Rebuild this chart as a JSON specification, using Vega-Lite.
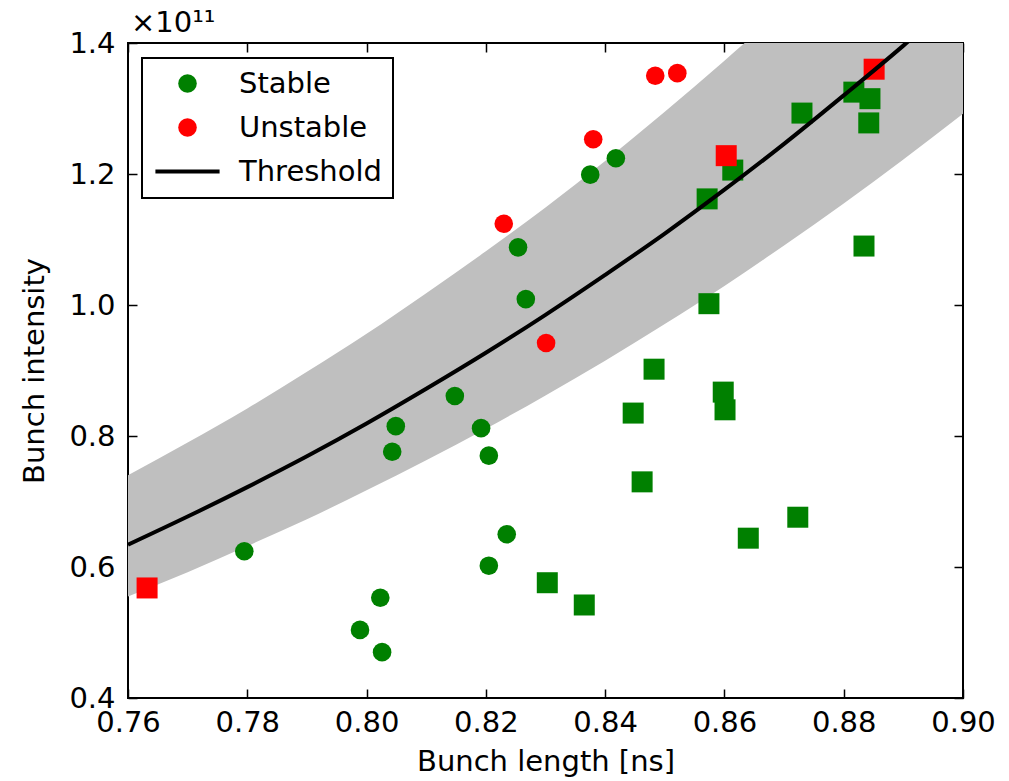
{
  "$schema": "https://vega.github.io/schema/vega-lite/v6.json",
  "autosize": "none",
  "width": 835,
  "height": 655,
  "padding": {"left": 128, "top": 43, "right": 46, "bottom": 83},
  "background": "white",
  "config": {
    "view": {"stroke": "black", "strokeWidth": 2},
    "font": "DejaVu Sans"
  },
  "title": {"text": "×10¹¹", "anchor": "start", "frame": "group", "font": "DejaVu Sans", "fontSize": 29, "fontWeight": "normal", "color": "black", "offset": 6, "dx": 3, "dy": 15},
  "datasets": {
    "curve": [
      {"len": 0.76, "thr": 0.634, "lo": 0.555, "hi": 0.740},
      {"len": 0.77, "thr": 0.677, "lo": 0.592, "hi": 0.790},
      {"len": 0.78, "thr": 0.722, "lo": 0.632, "hi": 0.842},
      {"len": 0.79, "thr": 0.769, "lo": 0.673, "hi": 0.898},
      {"len": 0.80, "thr": 0.819, "lo": 0.717, "hi": 0.956},
      {"len": 0.81, "thr": 0.872, "lo": 0.763, "hi": 1.018},
      {"len": 0.82, "thr": 0.927, "lo": 0.811, "hi": 1.082},
      {"len": 0.83, "thr": 0.985, "lo": 0.862, "hi": 1.149},
      {"len": 0.84, "thr": 1.046, "lo": 0.915, "hi": 1.220},
      {"len": 0.85, "thr": 1.109, "lo": 0.971, "hi": 1.295},
      {"len": 0.86, "thr": 1.176, "lo": 1.029, "hi": 1.373},
      {"len": 0.87, "thr": 1.246, "lo": 1.091, "hi": 1.454},
      {"len": 0.88, "thr": 1.320, "lo": 1.155, "hi": 1.540},
      {"len": 0.89, "thr": 1.396, "lo": 1.222, "hi": 1.629},
      {"len": 0.90, "thr": 1.477, "lo": 1.292, "hi": 1.723}
    ],
    "points": [
      {"len": 0.7795, "intensity": 0.624, "status": "Stable", "shape": "circle"},
      {"len": 0.7989, "intensity": 0.504, "status": "Stable", "shape": "circle"},
      {"len": 0.8023, "intensity": 0.553, "status": "Stable", "shape": "circle"},
      {"len": 0.8026, "intensity": 0.470, "status": "Stable", "shape": "circle"},
      {"len": 0.8043, "intensity": 0.776, "status": "Stable", "shape": "circle"},
      {"len": 0.8049, "intensity": 0.815, "status": "Stable", "shape": "circle"},
      {"len": 0.8148, "intensity": 0.861, "status": "Stable", "shape": "circle"},
      {"len": 0.8192, "intensity": 0.812, "status": "Stable", "shape": "circle"},
      {"len": 0.8205, "intensity": 0.770, "status": "Stable", "shape": "circle"},
      {"len": 0.8205, "intensity": 0.602, "status": "Stable", "shape": "circle"},
      {"len": 0.8235, "intensity": 0.650, "status": "Stable", "shape": "circle"},
      {"len": 0.8254, "intensity": 1.088, "status": "Stable", "shape": "circle"},
      {"len": 0.8267, "intensity": 1.009, "status": "Stable", "shape": "circle"},
      {"len": 0.8375, "intensity": 1.199, "status": "Stable", "shape": "circle"},
      {"len": 0.8418, "intensity": 1.224, "status": "Stable", "shape": "circle"},
      {"len": 0.8303, "intensity": 0.576, "status": "Stable", "shape": "square"},
      {"len": 0.8365, "intensity": 0.542, "status": "Stable", "shape": "square"},
      {"len": 0.8447, "intensity": 0.835, "status": "Stable", "shape": "square"},
      {"len": 0.8462, "intensity": 0.730, "status": "Stable", "shape": "square"},
      {"len": 0.8598, "intensity": 0.867, "status": "Stable", "shape": "square"},
      {"len": 0.8601, "intensity": 0.840, "status": "Stable", "shape": "square"},
      {"len": 0.8640, "intensity": 0.644, "status": "Stable", "shape": "square"},
      {"len": 0.8723, "intensity": 0.676, "status": "Stable", "shape": "square"},
      {"len": 0.8482, "intensity": 0.902, "status": "Stable", "shape": "square"},
      {"len": 0.8574, "intensity": 1.002, "status": "Stable", "shape": "square"},
      {"len": 0.8571, "intensity": 1.162, "status": "Stable", "shape": "square"},
      {"len": 0.8614, "intensity": 1.206, "status": "Stable", "shape": "square"},
      {"len": 0.8730, "intensity": 1.293, "status": "Stable", "shape": "square"},
      {"len": 0.8817, "intensity": 1.325, "status": "Stable", "shape": "square"},
      {"len": 0.8844, "intensity": 1.315, "status": "Stable", "shape": "square"},
      {"len": 0.8842, "intensity": 1.278, "status": "Stable", "shape": "square"},
      {"len": 0.8834, "intensity": 1.090, "status": "Stable", "shape": "square"},
      {"len": 0.8230, "intensity": 1.124, "status": "Unstable", "shape": "circle"},
      {"len": 0.8301, "intensity": 0.942, "status": "Unstable", "shape": "circle"},
      {"len": 0.8380, "intensity": 1.253, "status": "Unstable", "shape": "circle"},
      {"len": 0.8484, "intensity": 1.350, "status": "Unstable", "shape": "circle"},
      {"len": 0.8521, "intensity": 1.354, "status": "Unstable", "shape": "circle"},
      {"len": 0.8851, "intensity": 1.360, "status": "Unstable", "shape": "square"},
      {"len": 0.8603, "intensity": 1.228, "status": "Unstable", "shape": "square"},
      {"len": 0.7632, "intensity": 0.568, "status": "Unstable", "shape": "square"}
    ]
  },
  "resolve": {"axis": {"x": "independent", "y": "independent"}},
  "layer": [
    {
      "data": {"name": "curve"},
      "mark": {"type": "area", "color": "#bfbfbf", "opacity": 1, "clip": true, "interpolate": "monotone"},
      "encoding": {
        "x": {"field": "len", "type": "quantitative",
          "scale": {"domain": [0.76, 0.90], "nice": false, "zero": false},
          "axis": {"orient": "bottom", "values": [0.76, 0.78, 0.80, 0.82, 0.84, 0.86, 0.88, 0.90], "format": ".2f", "grid": false, "domain": false, "labelFlush": false,
            "labelFont": "DejaVu Sans", "labelFontSize": 29, "labelColor": "black", "labelPadding": 19,
            "tickColor": "black", "tickSize": -9, "tickWidth": 1.5,
            "title": "Bunch length [ns]", "titleFont": "DejaVu Sans", "titleFontSize": 29, "titleFontWeight": "normal", "titleColor": "black", "titlePadding": 10}},
        "y": {"field": "lo", "type": "quantitative",
          "scale": {"domain": [0.4, 1.4], "nice": false, "zero": false},
          "axis": {"orient": "left", "values": [0.4, 0.6, 0.8, 1.0, 1.2, 1.4], "format": ".1f", "grid": false, "domain": false, "labelFlush": false,
            "labelFont": "DejaVu Sans", "labelFontSize": 29, "labelColor": "black", "labelPadding": 22,
            "tickColor": "black", "tickSize": -9, "tickWidth": 1.5,
            "title": "Bunch intensity", "titleFont": "DejaVu Sans", "titleFontSize": 29, "titleFontWeight": "normal", "titleColor": "black", "titlePadding": 19}},
        "y2": {"field": "hi"}
      }
    },
    {
      "data": {"name": "points"},
      "mark": {"type": "point", "filled": true, "opacity": 1, "strokeWidth": 0, "clip": true},
      "encoding": {
        "x": {"field": "len", "type": "quantitative",
          "axis": {"orient": "top", "values": [0.76, 0.78, 0.80, 0.82, 0.84, 0.86, 0.88, 0.90], "labels": false, "title": null, "grid": false, "domain": false,
            "tickColor": "black", "tickSize": -9, "tickWidth": 1.5}},
        "y": {"field": "intensity", "type": "quantitative",
          "axis": {"orient": "right", "values": [0.4, 0.6, 0.8, 1.0, 1.2, 1.4], "labels": false, "title": null, "grid": false, "domain": false,
            "tickColor": "black", "tickSize": -9, "tickWidth": 1.5}},
        "shape": {"field": "shape", "type": "nominal", "scale": {"domain": ["circle", "square"], "range": ["circle", "square"]}, "legend": null},
        "size": {"field": "shape", "type": "nominal", "scale": {"domain": ["circle", "square"], "range": [346, 441]}, "legend": null},
        "color": {"field": "status", "type": "nominal",
          "scale": {"domain": ["Stable", "Unstable", "Threshold"], "range": ["#008000", "#ff0000", "#000000"]},
          "legend": {"title": null, "orient": "none", "legendX": 14, "legendY": 15,
            "strokeColor": "black", "fillColor": "white", "padding": 11,
            "labelFont": "DejaVu Sans", "labelFontSize": 29, "labelColor": "black",
            "symbolSize": 346, "symbolStrokeWidth": 0, "symbolOpacity": 1, "symbolType": "circle",
            "rowPadding": 14, "labelOffset": 37, "symbolOffset": 20,
            "encode": {
              "legend": {"update": {"strokeWidth": {"value": 2}}},
              "symbols": {"update": {"shape": {"signal": "datum.value === 'Threshold' ? 'M-3.45,-0.22H3.45V0.22H-3.45Z' : 'circle'"}}}
            }}}
      }
    },
    {
      "data": {"name": "curve"},
      "mark": {"type": "line", "color": "black", "strokeWidth": 4, "clip": true, "interpolate": "monotone"},
      "encoding": {
        "x": {"field": "len", "type": "quantitative", "axis": null},
        "y": {"field": "thr", "type": "quantitative", "axis": null}
      }
    }
  ]
}
